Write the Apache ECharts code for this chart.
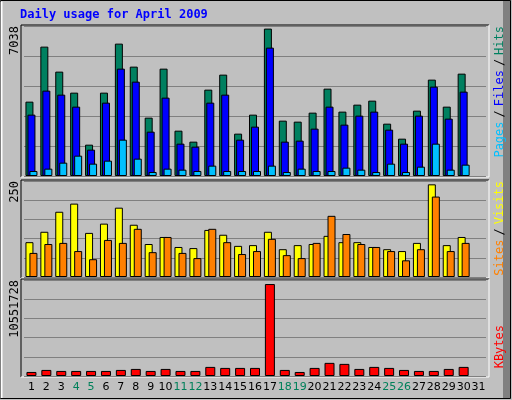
<!DOCTYPE html>
<html><head><meta charset="utf-8">
<script src="https://cdn.jsdelivr.net/npm/echarts@6/dist/echarts.min.js"></script>
<style>html,body{margin:0;padding:0;background:#c0c0c0}#chart{width:512px;height:400px}</style>
</head><body><div id="chart"></div>
<script>
// data
var days = [];
for (var d = 1; d <= 31; d++) days.push(String(d));
var weekend = ["4", "5", "11", "12", "18", "19", "25", "26"];

var hits = [3550, 6177, 4983, 3980, 1496, 3980, 6320, 5222, 2786, 5126, 2165, 1640, 4123, 4840, 2022,
  2929, 7038, 2643, 2595, 3025, 4171, 3073, 3407, 3598, 2499, 1783, 3120, 4601, 3311, 4887];
var files = [2929, 4076, 3884, 3311, 1258, 3502, 5126, 4505, 2117, 3741, 1544, 1401, 3502, 3884, 1735,
  2356, 6129, 1640, 1688, 2261, 3311, 2452, 2882, 3073, 2213, 1544, 2882, 4267, 2738, 4028];
var pages = [239, 350, 637, 971, 589, 732, 1735, 828, 191, 350, 302, 239, 494, 239, 239,
  239, 494, 191, 350, 239, 239, 398, 302, 191, 589, 191, 446, 1544, 302, 541];
var sites = [94, 122, 176, 198, 119, 144, 187, 141, 89, 108, 81, 78, 127, 114, 84,
  86, 122, 75, 86, 89, 111, 94, 94, 81, 75, 70, 92, 250, 86, 108];
var visits = [65, 89, 92, 70, 48, 100, 92, 130, 67, 108, 65, 51, 130, 94, 62,
  70, 103, 59, 51, 92, 165, 116, 89, 81, 70, 45, 75, 217, 70, 92];
var kbytes = [464000, 696000, 580000, 580000, 580000, 580000, 696000, 812000, 580000, 812000, 580000, 580000, 1044000, 928000, 928000,
  928000, 10551728, 696000, 464000, 928000, 1507000, 1391000, 812000, 1044000, 928000, 696000, 580000, 580000, 812000, 1044000];

var maxHits = 7038, maxSites = 250, maxKb = 10551728;

var grids = [
  { left: 24, width: 462, top: 26, height: 150 },
  { left: 24, width: 462, top: 181, height: 96 },
  { left: 24, width: 462, top: 280, height: 96 }
];
var tops = [7162, 259, 11015000];

var chart = echarts.init(document.getElementById("chart"));

var xAxes = grids.map(function (g, i) {
  return {
    type: "category", data: days, gridIndex: i,
    axisLine: { show: false }, axisTick: { show: false },
    axisLabel: i == 2 ? {
      show: true, margin: 6, interval: 0, fontFamily: "DejaVu Sans", fontSize: 11,
      color: function (v) { return weekend.indexOf(v) >= 0 ? "#00805a" : "#000000"; }
    } : { show: false }
  };
});
var yAxes = grids.map(function (g, i) {
  return {
    type: "value", gridIndex: i, min: 0, max: tops[i], interval: tops[i] / 5,
    axisLabel: { show: false }, axisLine: { show: false }, axisTick: { show: false },
    splitLine: { lineStyle: { color: "#808080", width: 1 } }
  };
});

function bars(name, data, color, idx, width, gap) {
  return {
    name: name, type: "bar", data: data, xAxisIndex: idx, yAxisIndex: idx,
    barWidth: width, barGap: gap, animation: false,
    itemStyle: { color: color, borderColor: "#000000", borderWidth: 1 }
  };
}

function vtext(x, y, txt, style) {
  return { type: "text", x: x, y: y, rotation: Math.PI / 2, style: Object.assign({
    text: txt, font: "12px 'DejaVu Sans Mono'", fill: "#000", align: "right", verticalAlign: "middle"
  }, style || {}) };
}

var graphic = [
  { type: "rect", shape: { x: 0.5, y: 0.5, width: 510, height: 398 }, style: { fill: "none", stroke: "#000" } },
  { type: "line", shape: { x1: 1.5, y1: 1.5, x2: 1.5, y2: 398 }, style: { stroke: "#fff", lineWidth: 2 } },
  { type: "rect", shape: { x: 503, y: 1, width: 7, height: 397 }, style: { fill: "#808080" } },
  { type: "text", x: 20, y: 9, style: { text: "Daily usage for April 2009", font: "bold 12px 'DejaVu Sans Mono'", fill: "#0000ff" } },
  vtext(15, 26, "7038"),
  vtext(15, 181, "250"),
  vtext(15, 280, "10551728"),
  { type: "text", x: 500, y: 26, rotation: Math.PI / 2, style: {
    text: "{p|Pages}{s|/}{f|Files}{s|/}{h|Hits}", align: "right", verticalAlign: "middle",
    rich: {
      p: { fill: "#00c0ff", font: "12px 'DejaVu Sans Mono'" },
      s: { fill: "#000", font: "12px 'DejaVu Sans Mono'", padding: [0, 4] },
      f: { fill: "#0000ff", font: "12px 'DejaVu Sans Mono'" },
      h: { fill: "#008060", font: "12px 'DejaVu Sans Mono'" }
    } } },
  { type: "text", x: 500, y: 181, rotation: Math.PI / 2, style: {
    text: "{o|Sites}{s|/}{y|Visits}", align: "right", verticalAlign: "middle",
    rich: {
      o: { fill: "#ff8000", font: "12px 'DejaVu Sans Mono'" },
      s: { fill: "#000", font: "12px 'DejaVu Sans Mono'", padding: [0, 4] },
      y: { fill: "#ffff00", font: "12px 'DejaVu Sans Mono'" }
    } } },
  { type: "text", x: 500, y: 325, rotation: Math.PI / 2, style: {
    text: "KBytes", font: "12px 'DejaVu Sans Mono'", fill: "#ff0000", align: "right", verticalAlign: "middle" } }
];
grids.forEach(function (g) {
  var l = g.left - 3, t = g.top - 1, r = g.left + g.width + 3, b = g.top + g.height + 1;
  graphic.push({ type: "polyline", shape: { points: [[l, b], [l, t], [r, t]] }, style: { stroke: "#000", fill: "none" } });
  graphic.push({ type: "polyline", shape: { points: [[r, t], [r, b], [l, b]] }, style: { stroke: "#fff", fill: "none" } });
});

chart.setOption({
  backgroundColor: "#c0c0c0",
  animation: false,
  grid: grids,
  xAxis: xAxes,
  yAxis: yAxes,
  graphic: graphic,
  series: [
    bars("Hits", hits, "#008060", 0, 8, "-75%"),
    bars("Files", files, "#0000ff", 0, 8, "-75%"),
    bars("Pages", pages, "#00c0ff", 0, 8, "-75%"),
    bars("Sites", sites, "#ffff00", 1, 8, "-50%"),
    bars("Visits", visits, "#ff8000", 1, 8, "-50%"),
    bars("KBytes", kbytes, "#ff0000", 2, 10, "0%")
  ]
});
</script></body></html>
